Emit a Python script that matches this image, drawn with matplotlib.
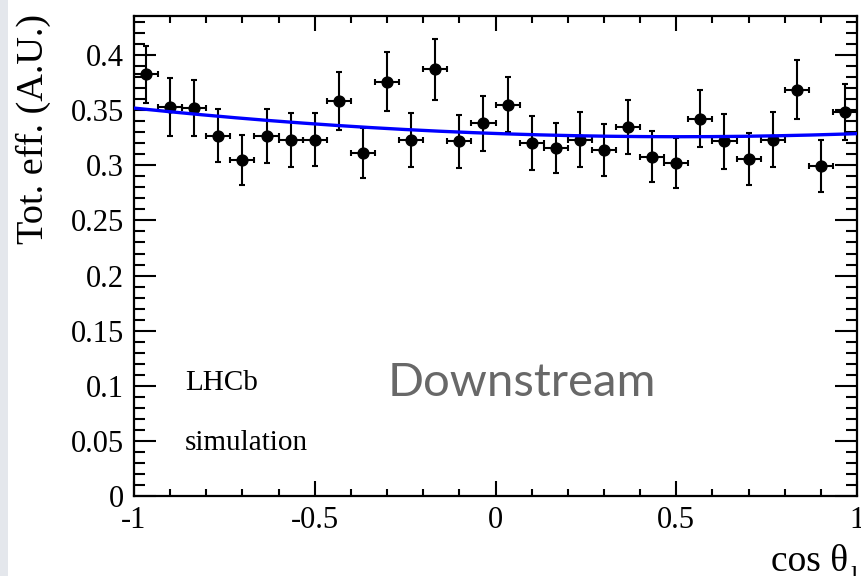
import numpy as np
import matplotlib
matplotlib.use("Agg")
import matplotlib.pyplot as plt
from matplotlib.ticker import MultipleLocator, FixedLocator, FixedFormatter

# cos(theta_l) binning: 30 bins between -1 and 1
BIN_EDGES = np.linspace(-1.0, 1.0, 31)

EFFICIENCY = [
    0.3825, 0.353, 0.352, 0.327, 0.3045, 0.327, 0.3233, 0.3233, 0.3585, 0.311,
    0.3757, 0.3233, 0.387, 0.3218, 0.338, 0.355, 0.3203, 0.3158, 0.3233, 0.3136,
    0.3348, 0.308, 0.3024, 0.3424, 0.3218, 0.3058, 0.3233, 0.3688, 0.299, 0.3485,
]
EFF_ERR = [
    0.0258, 0.026, 0.0255, 0.0242, 0.0227, 0.0245, 0.0245, 0.0238, 0.026, 0.0227,
    0.0267, 0.0244, 0.0273, 0.0242, 0.025, 0.025, 0.0245, 0.023, 0.025, 0.0236,
    0.0248, 0.0232, 0.0227, 0.0257, 0.0247, 0.0235, 0.0247, 0.0265, 0.0236, 0.0255,
]

# second order polynomial fit, highest power first
FIT_COEFFS = [0.01147, -0.0116, 0.3289]

Y_TICKS = [0, 0.05, 0.1, 0.15, 0.2, 0.25, 0.3, 0.35, 0.4]
Y_TICK_LABELS = ["0", "0.05", "0.1", "0.15", "0.2", "0.25", "0.3", "0.35", "0.4"]
X_TICKS = [-1, -0.5, 0, 0.5, 1]
X_TICK_LABELS = ["-1", "-0.5", "0", "0.5", "1"]

SERIF = ["Liberation Serif", "DejaVu Serif"]

centers = 0.5 * (BIN_EDGES[:-1] + BIN_EDGES[1:])
half_width = 0.5 * np.diff(BIN_EDGES)

fig = plt.figure(figsize=(8.61, 5.76), dpi=100)
fig.patch.set_facecolor("white")

# thin grey strip along the left border
fig.add_artist(plt.Rectangle((0, 0), 8 / 861, 1, transform=fig.transFigure,
                             facecolor="#e4e7ec", edgecolor="none"))

ax = fig.add_axes([134 / 861, 80 / 576, 723 / 861, 480 / 576])

ax.errorbar(centers, EFFICIENCY, xerr=half_width, yerr=EFF_ERR,
            fmt="o", color="black", markersize=7.8, elinewidth=1.5,
            capsize=2.5, capthick=1.5, zorder=2)

xs = np.linspace(-1, 1, 300)
ax.plot(xs, np.polyval(FIT_COEFFS, xs), color="#0000ff", lw=2.4, zorder=3)

ax.set_xlim(-1, 1)
ax.set_ylim(0, 0.4355)

ax.xaxis.set_major_locator(FixedLocator(X_TICKS))
ax.xaxis.set_major_formatter(FixedFormatter(X_TICK_LABELS))
ax.xaxis.set_minor_locator(MultipleLocator(0.1))
ax.yaxis.set_major_locator(FixedLocator(Y_TICKS))
ax.yaxis.set_major_formatter(FixedFormatter(Y_TICK_LABELS))
ax.yaxis.set_minor_locator(MultipleLocator(0.01))

ax.tick_params(axis="both", which="both", direction="in", top=True, right=True,
               width=1.5, colors="black")
ax.tick_params(axis="x", which="major", length=11, pad=7)
ax.tick_params(axis="x", which="minor", length=5)
ax.tick_params(axis="y", which="major", length=16, pad=7)
ax.tick_params(axis="y", which="minor", length=8)

for lab in ax.get_xticklabels() + ax.get_yticklabels():
    lab.set_family(SERIF)
    lab.set_fontsize(22)

for sp in ax.spines.values():
    sp.set_linewidth(1.6)

ax.text(51 / 723, 0.22, "LHCb", transform=ax.transAxes,
        family=SERIF, fontsize=21, va="baseline")
ax.text(51 / 723, 0.095, "simulation", transform=ax.transAxes,
        family=SERIF, fontsize=21, va="baseline")
ax.text(0.536, 0.209, "Downstream", transform=ax.transAxes,
        family=["Lato", "DejaVu Sans"], fontsize=34,
        color="#686868", ha="center", va="baseline")

fig.text(33 / 861, 1 - 14 / 576, "Tot. eff. (A.U.)", rotation=90,
         family=SERIF, fontsize=27.5, ha="center", va="top")
fig.text(848 / 861, 5 / 576, "cos \u03b8", family=SERIF, fontsize=27,
         ha="right", va="baseline")
fig.text(850 / 861, -7 / 576, "l", family=SERIF, fontsize=19,
         ha="left", va="baseline")

fig.savefig("out.png", dpi=100)
